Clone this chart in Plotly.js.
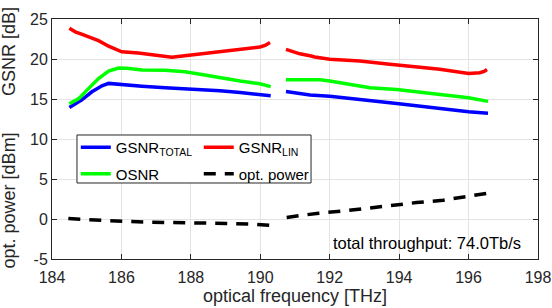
<!DOCTYPE html>
<html>
<head>
<meta charset="utf-8">
<script src="https://cdn.plot.ly/plotly-3.0.1.min.js"></script>
<style>html,body{margin:0;padding:0;background:#fff;}#chart{width:552px;height:308px;}</style>
</head>
<body>
<div id="chart"></div>
<script>
// GSNR_LIN (red), two bands separated by null
const linFreq = [184.50,184.67,184.85,185.05,185.34,185.63,185.92,186.01,186.49,186.97,187.35,187.45,187.70,188.27,188.84,189.42,189.99,190.14,190.28,null,
                 190.74,190.95,191.14,191.43,191.57,192.00,192.58,192.87,193.73,194.02,194.60,195.17,195.60,196.00,196.32,196.45,196.53];
const linVal  = [23.85,23.40,23.10,22.80,22.30,21.60,21.05,20.90,20.75,20.50,20.30,20.22,20.35,20.62,21.00,21.25,21.50,21.70,22.05,null,
                 21.20,20.85,20.65,20.40,20.25,19.98,19.88,19.75,19.35,19.25,18.98,18.72,18.45,18.18,18.28,18.45,18.68];
// OSNR (green)
const osnrFreq = [184.50,184.77,185.05,185.34,185.63,185.92,186.16,186.59,187.26,187.83,188.27,188.84,189.42,189.99,190.30,null,
                  190.74,191.14,191.43,191.72,192.00,192.58,193.16,193.93,194.50,195.17,195.83,196.00,196.56];
const osnrVal  = [14.40,15.05,16.30,17.55,18.50,18.88,18.83,18.62,18.60,18.40,18.10,17.65,17.25,16.90,16.55,null,
                  17.40,17.38,17.35,17.40,17.25,16.85,16.42,16.20,15.90,15.60,15.30,15.15,14.70];
// GSNR_TOTAL (blue)
const totFreq = [184.50,184.86,185.15,185.44,185.63,186.01,186.59,187.26,187.83,188.27,188.84,189.42,189.99,190.30,null,
                 190.74,191.14,191.43,192.00,192.58,192.87,193.93,194.60,195.36,196.00,196.56];
const totVal  = [13.95,14.90,15.90,16.65,16.95,16.85,16.60,16.40,16.25,16.22,16.04,15.80,15.58,15.42,null,
                 15.95,15.70,15.50,15.35,15.15,14.95,14.45,14.10,13.70,13.40,13.22];
// optical power [dBm] (black dashed)
const powFreq = [184.47,185.39,186.10,186.83,187.50,188.46,189.03,189.70,190.28,null,
                 190.76,191.62,192.39,193.06,193.83,194.50,195.27,195.94,196.51];
const powVal  = [0.05,-0.20,-0.30,-0.40,-0.42,-0.45,-0.55,-0.62,-0.80,null,
                 0.20,0.70,1.00,1.35,1.80,2.05,2.35,2.80,3.20];

const xTicks = [184,186,188,190,192,194,196,198];
const yTicks = [-5,0,5,10,15,20,25];
const seriesNames = ['GSNR<sub>TOTAL</sub>','GSNR<sub>LIN</sub>','OSNR','opt. power'];
const throughputText = 'total throughput: 74.0Tb/s';

const FONT = 'Liberation Sans, Arial, sans-serif';
const AX = '#262626';
const GRID = '#e3e3e3';

const traces = [
  {x: totFreq, y: totVal, name: seriesNames[0], mode:'lines', line:{color:'#0000ff', width:3.5}, connectgaps:false, legend:'legend', legendgroup:'a'},
  {x: linFreq, y: linVal, name: seriesNames[1], mode:'lines', line:{color:'#ff0000', width:3.5}, connectgaps:false, legend:'legend2', legendgroup:'b'},
  {x: osnrFreq, y: osnrVal, name: seriesNames[2], mode:'lines', line:{color:'#00ff00', width:3.5}, connectgaps:false, legend:'legend', legendgroup:'c'},
  {x: powFreq, y: powVal, name: seriesNames[3], mode:'lines', line:{color:'#000000', width:3.5, dash:'12px,9px'}, connectgaps:false, legend:'legend2', legendgroup:'d'}
];

const legendCommon = {
  orientation:'v', bgcolor:'rgba(0,0,0,0)', borderwidth:0,
  font:{family:FONT, size:15, color:'#000'}, xanchor:'left', yanchor:'top',
  traceorder:'grouped', tracegroupgap:4
};

const layout = {
  width:552, height:308,
  margin:{l:52, r:14, t:19, b:49},
  paper_bgcolor:'#fff', plot_bgcolor:'#fff',
  font:{family:FONT, color:AX},
  showlegend:true,
  xaxis:{
    range:[184,198], tickvals:xTicks, ticktext:xTicks.map(String),
    ticks:'inside', ticklen:5, tickcolor:AX, mirror:'ticks', showline:true, linecolor:AX, linewidth:1,
    showgrid:true, gridcolor:GRID, zeroline:false, ticklabelstandoff:4,
    tickfont:{family:FONT, size:16, color:AX},
    title:{text:'optical frequency [THz]', font:{family:FONT, size:18, color:AX}, standoff:4}
  },
  yaxis:{
    range:[-5,25], tickvals:yTicks, ticktext:yTicks.map(String),
    ticks:'inside', ticklen:5, tickcolor:AX, mirror:'ticks', showline:true, linecolor:AX, linewidth:1,
    showgrid:true, gridcolor:GRID, zeroline:false,
    tickfont:{family:FONT, size:16, color:AX}
  },
  legend: Object.assign({x:0.049, y:0.533}, legendCommon),
  legend2: Object.assign({x:0.302, y:0.533}, legendCommon),
  shapes:[
    {type:'rect', xref:'paper', yref:'paper', x0:0.0514, x1:0.533, y0:0.3167, y1:0.5167,
     fillcolor:'#fff', line:{color:AX, width:1}, layer:'above'}
  ],
  annotations:[
    {text:'GSNR [dB]', xref:'paper', yref:'paper', x:0, y:0.8625, xshift:-43, textangle:-90,
     xanchor:'center', yanchor:'middle', showarrow:false, font:{family:FONT, size:18, color:AX}},
    {text:'opt. power [dBm]', xref:'paper', yref:'paper', x:0, y:0.244, xshift:-43, textangle:-90,
     xanchor:'center', yanchor:'middle', showarrow:false, font:{family:FONT, size:18, color:AX}},
    {text:throughputText, xref:'paper', yref:'paper', x:0.969, y:0.0667,
     xanchor:'right', yanchor:'middle', showarrow:false, font:{family:FONT, size:16.5, color:'#000'}}
  ]
};

Plotly.newPlot('chart', traces, layout, {staticPlot:true, displayModeBar:false});
</script>
</body>
</html>
